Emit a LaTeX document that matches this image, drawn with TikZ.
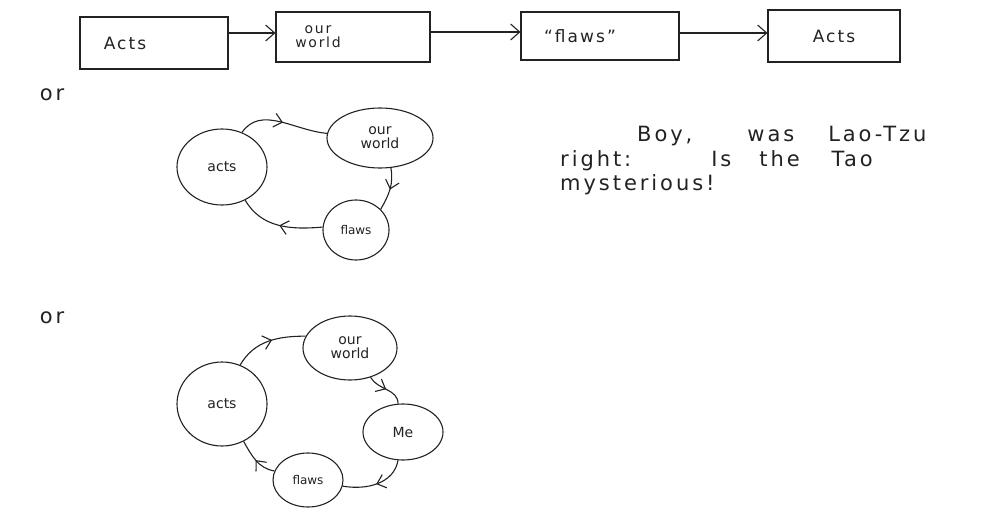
\documentclass[tikz,border=0pt]{standalone}
\usepackage{fontspec}
\setmainfont{DejaVu Sans}
\usetikzlibrary{shapes.geometric,arrows.meta,decorations.markings}
\definecolor{ink}{HTML}{222222}
\tikzset{
  pen/.style={draw=ink,line width=1.1pt},
  box/.style={pen,rectangle,inner sep=0pt,font=\fontsize{17}{17}\selectfont\addfontfeature{LetterSpace=12},text=ink},
  blob/.style={pen,ellipse,inner sep=0pt,font=\fontsize{14}{14}\selectfont,text=ink,align=center},
  hand/.style={font=\fontsize{21}{24}\selectfont\addfontfeature{LetterSpace=14},text=ink,align=left,inner sep=0pt},
  flow/.style={pen,-{Straight Barb[length=9pt,width=16pt,line width=1.1pt]}},
  midarrow/.style={pen,postaction={decorate},decoration={markings,
      mark=at position #1 with {\arrow{Straight Barb[length=8pt,width=14pt,line width=1.1pt]}}}},
  midarrow/.default=0.5
}
\begin{document}
\begin{tikzpicture}[x=1pt,y=-1pt]
\useasboundingbox (0,0) rectangle (1006,514);
% top row
\node[box,minimum width=148pt,minimum height=52pt] (b1) at (154,43) {Acts\kern58pt};
\node[box,minimum width=154pt,minimum height=50pt,font=\fontsize{14}{14}\selectfont\addfontfeature{LetterSpace=12}] (b2) at (353,37) {\shortstack{our\\world}\kern70pt};
\node[box,minimum width=158pt,minimum height=48pt] (b3) at (600,36) {“flaws”\kern40pt};
\node[box,minimum width=132pt,minimum height=52pt] (b4) at (834,36) {Acts};
\draw[flow] (b1.east |- 0,33) -- (b2.west |- 0,33);
\draw[flow] (b2.east |- 0,32) -- (b3.west |- 0,32);
\draw[flow] (b3.east |- 0,33) -- (b4.west |- 0,33);
% or labels
\node[hand] (or1) at (52,95) {or};
\node[hand] (or2) at (52,318) {or};
% first cycle
\node[blob,minimum width=90pt,minimum height=76pt] (a1) at (222,167) {acts};
\node[blob,minimum width=106pt,minimum height=60pt] (w1) at (380,138) {our\\world};
\node[blob,minimum width=66pt,minimum height=60pt,font=\fontsize{12}{12}\selectfont] (f1) at (356,230) {flaws};
\draw[midarrow=0.5] (a1.60) to[out=55,in=175] (w1.175);
\draw[midarrow=0.5] (w1.-70) to[out=-80,in=60] (f1.40);
\draw[midarrow=0.5] (f1.175) to[out=185,in=-60] (a1.-55);
% text
\node[hand,anchor=base west] (t1) at (637,141) {Boy,\hspace{55pt}was\hspace{34pt}Lao-Tzu};
\node[hand,anchor=base west] (t2) at (560,166) {right:\hspace{80pt}Is\hspace{28pt}the\hspace{32pt}Tao};
\node[hand,anchor=base west] (t3) at (560,190) {mysterious!};
% second cycle
\node[blob,minimum width=90pt,minimum height=84pt] (a2) at (222,404) {acts};
\node[blob,minimum width=94pt,minimum height=64pt] (w2) at (350,348) {our\\world};
\node[blob,minimum width=80pt,minimum height=56pt] (m2) at (403,432) {Me};
\node[blob,minimum width=70pt,minimum height=54pt,font=\fontsize{12}{12}\selectfont] (f2) at (308,480) {flaws};
\draw[midarrow=0.55] (a2.65) to[out=60,in=180] (w2.165);
\draw[midarrow=0.5] (w2.-55) to[out=-60,in=90] (m2.100);
\draw[midarrow=0.5] (m2.-100) to[out=-100,in=-10] (f2.-10);
\draw[midarrow=0.5] (f2.165) to[out=170,in=-60] (a2.-60);
\end{tikzpicture}
\end{document}
